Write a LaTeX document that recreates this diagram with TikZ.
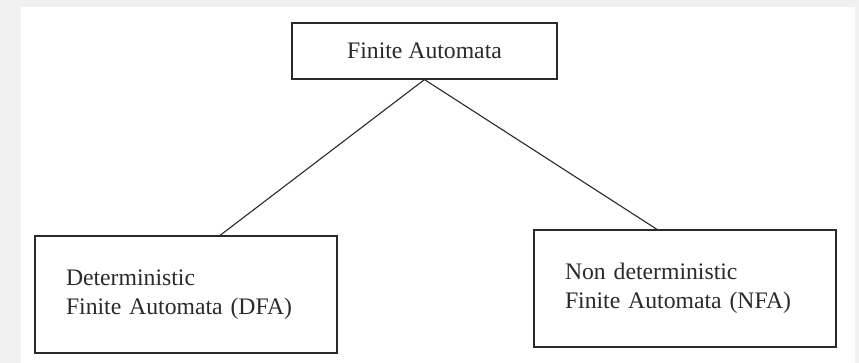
\documentclass[tikz,border=0pt]{standalone}
\usepackage{fontspec}
\setmainfont{Liberation Serif}
\definecolor{bggray}{HTML}{F1F1F1}
\definecolor{ink}{HTML}{2A2A2A}
\begin{document}
\begin{tikzpicture}[x=1pt,y=-1pt,
  box/.style={draw=ink,line width=1.2pt,rectangle,text=ink,font=\fontsize{23.7}{29}\selectfont},
  subbox/.style={box,inner xsep=31pt,inner ysep=0pt,text width=240pt,minimum height=117pt,align=left},
  link/.style={draw=ink,line width=1.1pt}]
\fill[bggray] (0,0) rectangle (859,363);
\fill[white] (21,7) rectangle (855,363);
\useasboundingbox (0,0) rectangle (859,363);
\node[box,minimum width=265pt,minimum height=56pt,inner sep=0pt] (fa) at (424.5,51) {Finite Automata};
\node[subbox] (dfa) at (186,294.5) {Deterministic\\Finite Automata (DFA)};
\node[subbox] (nfa) at (685,288.5) {Non deterministic\\Finite Automata (NFA)};
\draw[link] (fa.south) -- ([xshift=34pt]dfa.north);
\draw[link] (fa.south) -- ([xshift=-28pt]nfa.north);
\end{tikzpicture}
\end{document}
